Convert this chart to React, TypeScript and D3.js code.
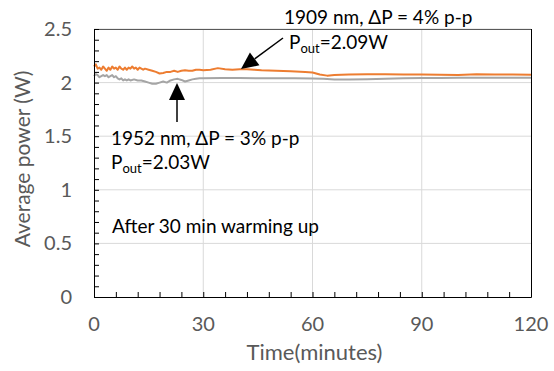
import { useEffect, useRef } from 'react'
import * as d3 from 'd3'

// 1909 nm (orange)
const orangeTime = [0, 0.5, 1, 1.5, 2, 2.5, 3, 3.5, 4, 4.5, 5, 5.5, 6, 6.5, 7, 7.5, 8, 8.5, 9, 9.5, 10, 10.5, 11, 11.5, 12, 12.5, 13, 13.5, 14, 15, 16, 17, 18, 19, 20, 21, 22, 23, 24, 25, 26, 27, 28, 29, 30, 32, 34, 36, 38, 40, 42, 44, 46, 50, 54, 58, 60, 62, 64, 66, 70, 75, 80, 85, 90, 95, 100, 105, 110, 115, 120]
const orangePower = [2.15, 2.17, 2.13, 2.14, 2.12, 2.15, 2.13, 2.11, 2.14, 2.12, 2.15, 2.13, 2.14, 2.12, 2.15, 2.13, 2.12, 2.14, 2.12, 2.14, 2.13, 2.15, 2.13, 2.14, 2.12, 2.14, 2.13, 2.12, 2.13, 2.12, 2.11, 2.1, 2.085, 2.09, 2.1, 2.1, 2.11, 2.1, 2.11, 2.115, 2.11, 2.11, 2.12, 2.12, 2.115, 2.12, 2.135, 2.125, 2.12, 2.125, 2.125, 2.12, 2.115, 2.11, 2.105, 2.1, 2.095, 2.075, 2.065, 2.07, 2.075, 2.078, 2.078, 2.075, 2.075, 2.074, 2.072, 2.077, 2.076, 2.075, 2.074]

// 1952 nm (gray)
const grayTime = [0, 0.5, 1, 1.5, 2, 2.5, 3, 3.5, 4, 4.5, 5, 5.5, 6, 6.5, 7, 7.5, 8, 8.5, 9, 9.5, 10, 11, 12, 13, 14, 15, 16, 17, 18, 19, 20, 21, 22, 23, 24, 25, 26, 27, 28, 29, 30, 35, 40, 45, 50, 55, 60, 63, 66, 70, 75, 80, 85, 90, 95, 100, 110, 120]
const grayPower = [2.06, 2.08, 2.07, 2.05, 2.06, 2.07, 2.06, 2.07, 2.05, 2.06, 2.07, 2.05, 2.06, 2.04, 2.03, 2.04, 2.02, 2.03, 2.02, 2.03, 2.02, 2.03, 2.02, 2.02, 2.01, 2.0, 1.99, 1.99, 2.0, 2.01, 2.0, 2.02, 2.03, 2.035, 2.025, 2.01, 2.02, 2.03, 2.035, 2.04, 2.04, 2.043, 2.042, 2.04, 2.04, 2.04, 2.038, 2.035, 2.03, 2.03, 2.032, 2.035, 2.04, 2.042, 2.043, 2.045, 2.045, 2.045]

const xTicks = [0, 30, 60, 90, 120]
const yTicks = [0, 0.5, 1, 1.5, 2, 2.5]

const FONT = 'Lato, "Open Sans", sans-serif'

export default function App() {
  const svgRef = useRef<SVGSVGElement>(null)

  useEffect(() => {
    const width = 554
    const height = 371
    const margin = { top: 29, right: 23, bottom: 74, left: 94 }
    const innerWidth = width - margin.left - margin.right
    const innerHeight = height - margin.top - margin.bottom

    const svg = d3.select(svgRef.current)
    svg.selectAll('*').remove()
    svg.attr('width', width).attr('height', height)

    const g = svg.append('g').attr('transform', `translate(${margin.left},${margin.top})`)

    const x = d3.scaleLinear().domain([0, 120]).range([0, innerWidth])
    const y = d3.scaleLinear().domain([0, 2.5]).range([innerHeight, 0])

    // grade
    g.selectAll('.hgrid')
      .data(yTicks.slice(1))
      .enter()
      .append('line')
      .attr('x1', 0)
      .attr('x2', innerWidth)
      .attr('y1', d => y(d))
      .attr('y2', d => y(d))
      .attr('stroke', '#d9d9d9')
      .attr('stroke-width', 1)

    g.selectAll('.vgrid')
      .data(xTicks.slice(1, -1))
      .enter()
      .append('line')
      .attr('x1', d => x(d))
      .attr('x2', d => x(d))
      .attr('y1', 0)
      .attr('y2', innerHeight)
      .attr('stroke', '#d9d9d9')
      .attr('stroke-width', 1)

    // linhas
    const line = d3.line<[number, number]>()
      .x(d => x(d[0]))
      .y(d => y(d[1]))

    g.append('path')
      .datum(grayTime.map((t, i) => [t, grayPower[i]] as [number, number]))
      .attr('fill', 'none')
      .attr('stroke', '#a5a5a5')
      .attr('stroke-width', 2)
      .attr('stroke-linejoin', 'round')
      .attr('d', line)

    g.append('path')
      .datum(orangeTime.map((t, i) => [t, orangePower[i]] as [number, number]))
      .attr('fill', 'none')
      .attr('stroke', '#ed7d31')
      .attr('stroke-width', 2)
      .attr('stroke-linejoin', 'round')
      .attr('d', line)

    // borda
    g.append('line').attr('x1', 0).attr('x2', innerWidth).attr('y1', 0.5).attr('y2', 0.5)
      .attr('stroke', '#595959')
    g.append('line').attr('x1', innerWidth + 0.5).attr('x2', innerWidth + 0.5).attr('y1', 0).attr('y2', innerHeight)
      .attr('stroke', '#000')

    // eixo X
    const xAxis = g.append('g')
      .attr('transform', `translate(0,${innerHeight})`)
      .call(d3.axisBottom(x).tickValues(d3.range(0, 121, 6)).tickSize(-5).tickFormat(() => ''))
    xAxis.select('.domain').attr('stroke', '#000')
    xAxis.selectAll('.tick line').attr('stroke', '#000')

    g.selectAll('.xlabel')
      .data(xTicks)
      .enter()
      .append('text')
      .attr('x', d => x(d))
      .attr('y', innerHeight + 34)
      .attr('fill', '#595959')
      .style('font-family', FONT)
      .style('font-size', '20px')
      .style('text-anchor', 'middle')
      .text(d => d)

    // eixo Y
    const yAxis = g.append('g')
      .call(d3.axisLeft(y).tickValues(d3.range(0, 26).map(i => i / 10)).tickSize(-5).tickFormat(() => ''))
    yAxis.select('.domain').attr('stroke', '#000')
    yAxis.selectAll('.tick line').attr('stroke', '#000')

    g.selectAll('.ylabel')
      .data(yTicks)
      .enter()
      .append('text')
      .attr('x', -22)
      .attr('y', d => y(d) + 7)
      .attr('fill', '#595959')
      .style('font-family', FONT)
      .style('font-size', '20px')
      .style('text-anchor', 'end')
      .text(d => d)

    // títulos
    g.append('text')
      .attr('transform', 'rotate(-90)')
      .attr('x', -innerHeight / 2 + 4)
      .attr('y', -64)
      .attr('fill', '#595959')
      .style('font-family', FONT)
      .style('font-size', '21px')
      .style('text-anchor', 'middle')
      .text('Average power (W)')

    g.append('text')
      .attr('x', innerWidth / 2 + 2)
      .attr('y', innerHeight + 63)
      .attr('fill', '#595959')
      .style('font-family', FONT)
      .style('font-size', '22px')
      .style('text-anchor', 'middle')
      .text('Time(minutes)')

    // anotações
    const note = (px: number, py: number, main: string, tail?: string, sub?: string) => {
      const t = svg.append('text')
        .attr('x', px)
        .attr('y', py)
        .attr('fill', '#000')
        .style('font-family', FONT)
        .style('font-size', '19px')
      t.append('tspan').text(main)
      if (sub) {
        t.append('tspan').attr('dy', 4).style('font-size', '13px').text(sub)
        t.append('tspan').attr('dy', -4).text(tail || '')
      }
    }

    note(284, 24, '1909 nm, ΔP = 4% p-p')
    note(289, 49, 'P', '=2.09W', 'out')
    note(111, 145, '1952 nm, ΔP = 3% p-p')
    note(111, 169, 'P', '=2.03W', 'out')
    note(112, 233, 'After 30 min warming up')

    // setas
    const arrow = (x1: number, y1: number, x2: number, y2: number) => {
      const ang = Math.atan2(y2 - y1, x2 - x1)
      const len = 17
      const half = 8
      const bx = x2 - len * Math.cos(ang)
      const by = y2 - len * Math.sin(ang)
      svg.append('line')
        .attr('x1', x1).attr('y1', y1).attr('x2', bx).attr('y2', by)
        .attr('stroke', '#000').attr('stroke-width', 1.5)
      svg.append('path')
        .attr('d', `M${x2},${y2}L${bx + half * Math.sin(ang)},${by - half * Math.cos(ang)}L${bx - half * Math.sin(ang)},${by + half * Math.cos(ang)}Z`)
        .attr('fill', '#000')
    }

    arrow(283, 38, 241, 69)
    arrow(177, 122, 177, 83)
  }, [])

  return (
    <div style={{ position: 'absolute', left: 0, top: 0, width: 554, height: 371, background: '#fff' }}>
      <svg ref={svgRef} style={{ display: 'block' }}></svg>
    </div>
  )
}
